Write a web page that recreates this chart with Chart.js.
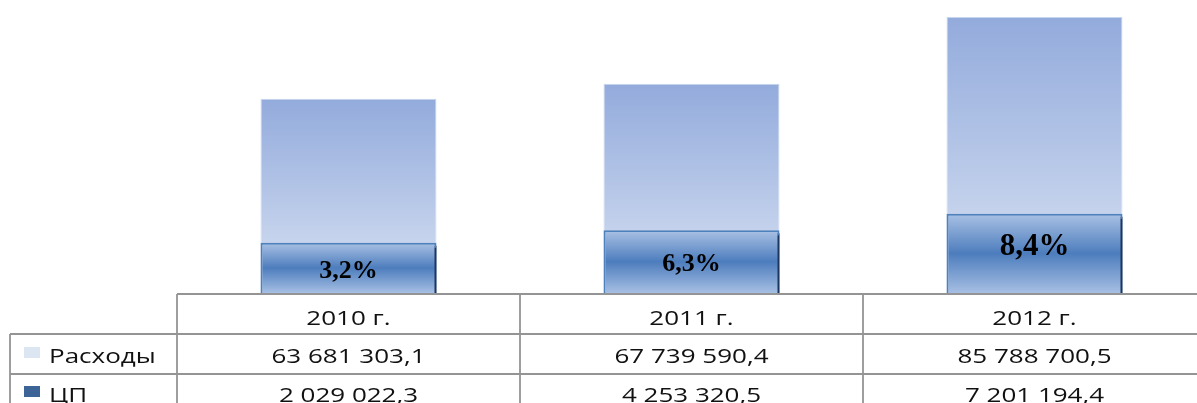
<!DOCTYPE html>
<html>
<head>
<meta charset="utf-8">
<script src="https://cdn.jsdelivr.net/npm/chart.js@4/dist/chart.umd.min.js"></script>
<style>
    html, body { margin: 0; padding: 0; background: #fff; overflow: hidden; }
    #wrap { width: 1210px; height: 403px; position: relative; }
</style>
</head>
<body>
<div id="wrap"><canvas id="chart"></canvas></div>
<script>
const categories = ["2010 г.", "2011 г.", "2012 г."]
const rashody = [63681303.1, 67739590.4, 85788700.5]
const cp = [2029022.3, 4253320.5, 7201194.4]
const rashodyText = ["63 681 303,1", "67 739 590,4", "85 788 700,5"]
const cpText = ["2 029 022,3", "4 253 320,5", "7 201 194,4"]
const shareLabels = ["3,2%", "6,3%", "8,4%"]
const seriesNames = ["Расходы", "ЦП"]

// hidden axes ranges, picked so bars sit like the original
const Y_MIN = 11200000, Y_MAX = 90370000
const Y2_MIN = -6880000, Y2_MAX = 45170000

const ROW_H = 40
const LINE = "#949494"

function barGradient(ctx, scaleId, stops) {
    const chart = ctx.chart
    if (!chart.chartArea) return stops[0][1]
    const sc = chart.scales[scaleId]
    const top = sc.getPixelForValue(ctx.raw)
    const bottom = chart.chartArea.bottom
    const g = chart.ctx.createLinearGradient(0, top, 0, bottom)
    stops.forEach(s => g.addColorStop(s[0], s[1]))
    return g
}

const tablePlugin = {
    id: "dataTable",
    beforeDatasetsDraw(chart) {
        const c = chart.ctx
        const area = chart.chartArea
        const x = chart.scales.x
        const cw = (area.right - area.left) / categories.length
        const top = area.bottom + 1
        const leftX = 10
        c.save()
        c.strokeStyle = LINE
        c.lineWidth = 1.8
        c.beginPath()
        // header top line
        c.moveTo(area.left, top); c.lineTo(chart.width, top)
        // row lines
        for (let r = 1; r <= 2; r++) {
            c.moveTo(leftX, top + r * ROW_H); c.lineTo(chart.width, top + r * ROW_H)
        }
        // verticals
        c.moveTo(leftX, top + ROW_H); c.lineTo(leftX, chart.height)
        for (let i = 0; i <= categories.length; i++) {
            const vx = area.left + i * cw
            c.moveTo(vx, top); c.lineTo(vx, chart.height)
        }
        c.stroke()

        const drawText = (txt, cx, by, align) => {
            c.save()
            c.translate(cx, by)
            c.scale(1.3, 1)
            c.textAlign = align
            c.fillText(txt, 0, 0)
            c.restore()
        }
        c.fillStyle = "#111"
        c.font = "20px 'Open Sans'"
        c.textBaseline = "alphabetic"
        categories.forEach((lab, i) => {
            const cx = x.getPixelForValue(i)
            drawText(lab, cx, top + 31, "center")
            drawText(rashodyText[i], cx, top + ROW_H + 29, "center")
            drawText(cpText[i], cx, top + 2 * ROW_H + 28, "center")
        })
        // legend cells
        c.fillStyle = "#dce6f2"
        c.fillRect(24, top + ROW_H + 13, 16, 11)
        c.fillStyle = "#3c6497"
        c.fillRect(24, top + 2 * ROW_H + 12, 16, 11)
        c.fillStyle = "#111"
        drawText(seriesNames[0], 49, top + ROW_H + 29, "left")
        drawText(seriesNames[1], 49, top + 2 * ROW_H + 28, "left")
        c.restore()
    },
    beforeDatasetDraw(chart, args) {
        if (args.index === 1) {
            const c = chart.ctx
            c.save()
            c.shadowColor = "rgba(25,50,90,0.95)"
            c.shadowOffsetX = 3
            c.shadowOffsetY = 3
            c.shadowBlur = 0
        }
    },
    afterDatasetDraw(chart, args) {
        if (args.index === 1) chart.ctx.restore()
    },
    afterDatasetsDraw(chart) {
        const c = chart.ctx
        const meta = chart.getDatasetMeta(1)
        const sizes = [26, 26, 31]
        c.save()
        c.fillStyle = "#000"
        c.textAlign = "center"
        c.textBaseline = "middle"
        meta.data.forEach((bar, i) => {
            c.font = "bold " + sizes[i] + "px 'Liberation Serif'"
            const cy = (bar.y + bar.base) / 2 + (i === 2 ? -6 : 3)
            c.fillText(shareLabels[i], bar.x, cy)
        })
        c.restore()
    },
}

new Chart(document.getElementById("chart").getContext("2d"), {
    type: "bar",
    data: {
        labels: categories,
        datasets: [
            {
                label: seriesNames[0],
                data: rashody,
                yAxisID: "y",
                order: 2,
                backgroundColor: (ctx) => barGradient(ctx, "y", [[0, "#93abdc"], [0.5, "#b5c6e7"], [1, "#dae3f3"]]),
                borderColor: "#c8d5ee",
                borderWidth: 1,
            },
            {
                label: seriesNames[1],
                data: cp,
                yAxisID: "y2",
                base: Y2_MIN,
                order: 1,
                backgroundColor: (ctx) => barGradient(ctx, "y2", [[0, "#a9c1e4"], [0.5, "#4d7dbd"], [1, "#a6bfe3"]]),
                borderColor: "#4f81bd",
                borderWidth: 2,
            },
        ],
    },
    options: {
        responsive: true,
        maintainAspectRatio: false,
        animation: false,
        layout: {
            padding: { left: 177, right: 4, top: 0, bottom: 110 },
        },
        datasets: {
            bar: {
                grouped: false,
                categoryPercentage: 1,
                barPercentage: 0.513,
            },
        },
        plugins: {
            legend: { display: false },
            tooltip: { enabled: false },
        },
        scales: {
            x: {
                display: false,
                grid: { display: false },
            },
            y: {
                display: false,
                min: Y_MIN,
                max: Y_MAX,
            },
            y2: {
                display: false,
                min: Y2_MIN,
                max: Y2_MAX,
            },
        },
    },
    plugins: [tablePlugin],
});
</script>
</body>
</html>
